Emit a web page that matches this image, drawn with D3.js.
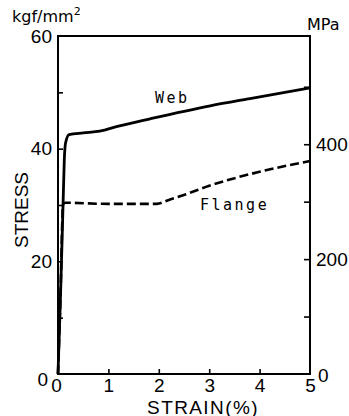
<!DOCTYPE html>
<html>
<head>
<meta charset="utf-8">
<script src="https://cdn.jsdelivr.net/npm/d3@7"></script>
<style>
  html, body { margin: 0; padding: 0; background: #fff; }
  svg { display: block; }
</style>
</head>
<body>
<svg id="chart" width="349" height="416"></svg>
<script>
// Stress–strain curves (strain in %, stress in kgf/mm²)
const webStrain    = [0, 0.05, 0.10, 0.125, 0.15, 0.22, 0.50, 0.83, 1.20, 1.83, 3.02, 3.81, 5.00];
const webStress    = [0, 14,   30,   38,    41,   42.5, 42.8, 43.1, 44.0, 45.3, 47.6, 48.9, 50.8];
const flangeStrain = [0, 0.05, 0.10, 0.14, 1.00, 1.96, 2.20, 2.60, 3.00, 4.00, 5.00];
const flangeStress = [0, 14,   30,   30.4, 30.2, 30.2, 30.9, 32.1, 33.4, 35.9, 37.8];

const strainTicks     = [0, 1, 2, 3, 4, 5];
const stressLabels    = [0, 20, 40, 60];
const stressMinor     = [10, 20, 30, 40, 50];
const mpaLabels       = [0, 200, 400];
const mpaMinor        = [100, 200, 300, 400, 500];
const KGF_TO_MPA      = 9.80665;

const svg = d3.select("#chart");
const plotL = 58, plotR = 310, plotT = 36, plotB = 374;

const x = d3.scaleLinear().domain([0, 5]).range([plotL, plotR]);
const y = d3.scaleLinear().domain([0, 60]).range([plotB, plotT]);
const yMPa = d3.scaleLinear().domain([0, 60 * KGF_TO_MPA]).range([plotB, plotT]);

const numFont = "'Liberation Sans', Arial, sans-serif";
const intFmt = d3.format("d");

// frame
svg.append("rect")
  .attr("x", plotL).attr("y", plotT)
  .attr("width", plotR - plotL).attr("height", plotB - plotT)
  .attr("fill", "none").attr("stroke", "#000").attr("stroke-width", 2);

function styleAxis(g) {
  g.select(".domain").remove();
  g.selectAll("line").attr("stroke", "#000").attr("stroke-width", 1.6);
  g.selectAll("text").attr("fill", "#000")
    .style("font-family", numFont).style("font-size", "19px");
}

// inward minor ticks
svg.append("g").attr("transform", `translate(${plotL},0)`)
  .call(d3.axisLeft(y).tickValues(stressMinor).tickSize(-5).tickFormat(""))
  .call(styleAxis);
svg.append("g").attr("transform", `translate(${plotR},0)`)
  .call(d3.axisRight(yMPa).tickValues(mpaMinor).tickSize(-6).tickFormat(""))
  .call(styleAxis);
svg.append("g").attr("transform", `translate(0,${plotB})`)
  .call(d3.axisBottom(x).tickValues(strainTicks.slice(1, -1)).tickSize(-5).tickFormat(""))
  .call(styleAxis);

// tick labels
const leftLab = svg.append("g").attr("transform", `translate(${plotL},0)`)
  .call(d3.axisLeft(y).tickValues(stressLabels).tickSize(0).tickPadding(6).tickFormat(intFmt))
  .call(styleAxis);
leftLab.selectAll(".tick").filter(d => d === 0).select("text")
  .attr("x", -10).attr("y", 5);

const rightLab = svg.append("g").attr("transform", `translate(${plotR},0)`)
  .call(d3.axisRight(yMPa).tickValues(mpaLabels).tickSize(0).tickPadding(6).tickFormat(intFmt))
  .call(styleAxis);
rightLab.selectAll(".tick").filter(d => d === 0).select("text")
  .attr("x", 8).attr("y", 1);

const botLab = svg.append("g").attr("transform", `translate(0,${plotB})`)
  .call(d3.axisBottom(x).tickValues(strainTicks).tickSize(0).tickPadding(4.5).tickFormat(intFmt))
  .call(styleAxis);
botLab.selectAll(".tick").filter(d => d === 0).select("text").attr("x", -2);

// curves
const line = d3.line().x(d => x(d[0])).y(d => y(d[1])).curve(d3.curveMonotoneX);
const webPts = webStrain.map((s, i) => [s, webStress[i]]);
const flangePts = flangeStrain.map((s, i) => [s, flangeStress[i]]);

svg.append("path").datum(flangePts)
  .attr("d", line).attr("fill", "none").attr("stroke", "#000")
  .attr("stroke-width", 2.6).attr("stroke-dasharray", "9,4");
svg.append("path").datum(webPts)
  .attr("d", line).attr("fill", "none").attr("stroke", "#000")
  .attr("stroke-width", 2.8).attr("stroke-linejoin", "round");

// series names
const monoFont = "'DejaVu Sans Mono', monospace";
svg.append("text").attr("x", 155).attr("y", 103)
  .style("font-family", monoFont).style("font-size", "15px")
  .style("letter-spacing", "2.5px").text("Web");
svg.append("text").attr("x", 200).attr("y", 210)
  .style("font-family", monoFont).style("font-size", "15px")
  .style("letter-spacing", "2.5px").text("Flange");

// units and axis titles
const unit = svg.append("text").attr("x", 12).attr("y", 22)
  .style("font-family", "'DejaVu Sans', sans-serif").style("font-size", "16px");
unit.append("tspan").text("kgf/mm");
unit.append("tspan").attr("dy", -7).style("font-size", "11px").text("2");

svg.append("text").attr("x", 307).attr("y", 30)
  .style("font-family", "'DejaVu Sans', sans-serif").style("font-size", "16px")
  .text("MPa");

svg.append("text")
  .attr("transform", "translate(27.5,210) rotate(-90)")
  .attr("text-anchor", "middle")
  .style("font-family", numFont).style("font-size", "19px")
  .text("STRESS");

svg.append("text").attr("x", 203).attr("y", 413.5)
  .attr("text-anchor", "middle")
  .style("font-family", numFont).style("font-size", "19px")
  .style("letter-spacing", "1.4px")
  .text("STRAIN(%)");
</script>
</body>
</html>
